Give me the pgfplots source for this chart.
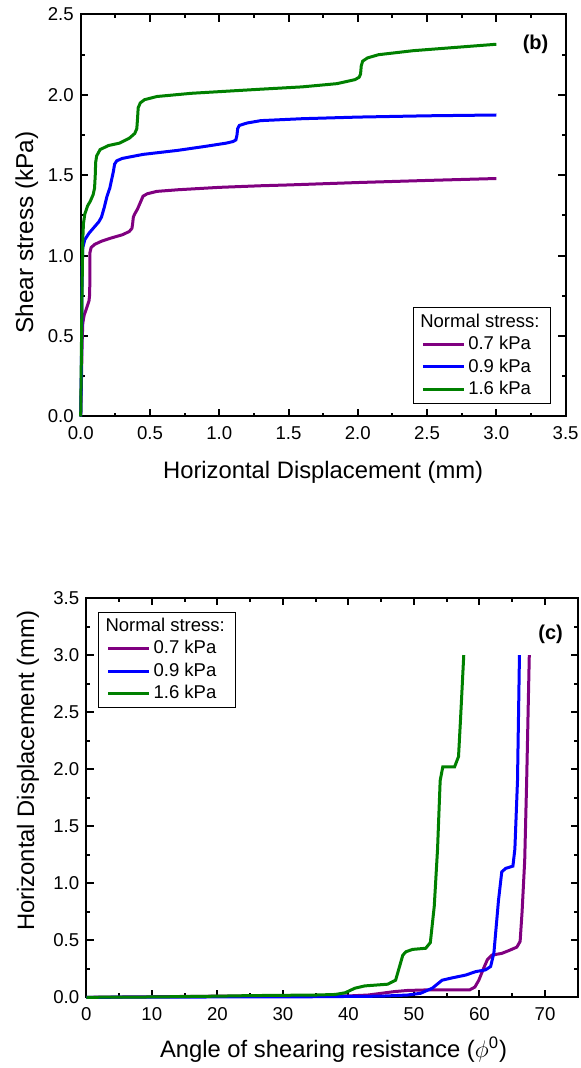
\documentclass[border=0pt]{standalone}
\usepackage{fontspec}
\setmainfont{Liberation Sans}
\usepackage{pgfplots}
\pgfplotsset{compat=1.18}
\definecolor{cpurple}{RGB}{128,0,128}
\definecolor{cblue}{RGB}{0,0,255}
\definecolor{cgreen}{RGB}{0,128,0}

\pgfplotsset{
 myaxis/.style={
  scale only axis,
  axis line style={line width=1pt},
  every tick/.style={black, line width=1pt},
  major tick length=3.6pt,
  minor tick length=2pt,
  tick align=inside,
  minor tick num=1,
  ticklabel style={font=\fontsize{9.3}{10}\selectfont},
  xticklabel style={yshift=-1.5pt},
  /pgf/number format/assume math mode=true,
  label style={font=\fontsize{11.9}{14}\selectfont},
  clip=false,
  legend cell align=left,
  legend image code/.code={\draw[##1] (0pt,0pt) -- (20.5pt,0pt);},
  legend style={draw=black, line width=0.5pt, font=\fontsize{9.25}{11}\selectfont,
    inner xsep=4pt, inner ysep=1.5pt, nodes={inner sep=1.5pt}},
 },
 plotline/.style={line width=1.5pt, no markers},
}

\begin{document}
\begin{tikzpicture}
% ---------------- (b) ----------------
\begin{axis}[myaxis, at={(40.35pt,-208.25pt)}, anchor=south west,
  width=242.45pt, height=201pt,
  xmin=0, xmax=3.5, ymin=0, ymax=2.5,
  xtick={0,0.5,1,1.5,2,2.5,3,3.5}, ytick={0,0.5,1,1.5,2,2.5},
  xticklabel style={/pgf/number format/.cd,fixed,fixed zerofill,precision=1,assume math mode=true},
  yticklabel style={/pgf/number format/.cd,fixed,fixed zerofill,precision=1,assume math mode=true},
  xlabel={Horizontal Displacement (mm)}, ylabel={Shear stress (kPa)},
  xlabel style={at={(axis description cs:0.5,-0.155)}, anchor=base},
  ylabel style={at={(axis description cs:-0.098,0.458)}, anchor=base, font=\fontsize{12.2}{14}\selectfont},
  legend style={at={(rel axis cs:0.97,0.031)}, anchor=south east},
]
\addlegendimage{empty legend}
\addlegendentry{\hspace{-24pt}Normal stress:}
\addplot[plotline, cpurple] coordinates {
(0,0) (0.005,0.2) (0.01,0.45) (0.015,0.58) (0.025,0.63) (0.045,0.68) (0.06,0.72)
(0.065,0.76) (0.066,0.9) (0.067,1.02) (0.075,1.05) (0.1,1.07) (0.15,1.09) (0.22,1.11)
(0.3,1.13) (0.35,1.15) (0.37,1.17) (0.375,1.2) (0.38,1.24) (0.39,1.26) (0.41,1.29)
(0.43,1.33) (0.45,1.37) (0.48,1.385) (0.55,1.40) (0.7,1.41) (1.0,1.425) (1.3,1.435)
(1.5,1.44) (2.0,1.455) (2.5,1.468) (3.0,1.48)};
\addlegendentry{0.7 kPa}
\addplot[plotline, cblue] coordinates {
(0,0) (0.005,0.3) (0.008,0.6) (0.01,0.9) (0.015,1.05) (0.03,1.1) (0.06,1.14) (0.1,1.18)
(0.13,1.21) (0.15,1.24) (0.17,1.3) (0.19,1.37) (0.21,1.42) (0.22,1.46) (0.235,1.52)
(0.245,1.57) (0.26,1.59) (0.3,1.605) (0.45,1.63) (0.7,1.655) (0.9,1.68) (1.05,1.70)
(1.1,1.71) (1.12,1.72) (1.128,1.75) (1.133,1.79) (1.145,1.81) (1.2,1.825) (1.3,1.84)
(1.6,1.852) (2.0,1.862) (2.5,1.87) (3.0,1.875)};
\addlegendentry{0.9 kPa}
\addplot[plotline, cgreen] coordinates {
(0,0) (0.005,0.4) (0.01,0.8) (0.015,1.1) (0.02,1.2) (0.03,1.26) (0.05,1.31) (0.07,1.34)
(0.09,1.38) (0.1,1.42) (0.105,1.5) (0.108,1.58) (0.115,1.62) (0.14,1.66) (0.2,1.685)
(0.28,1.70) (0.35,1.73) (0.39,1.76) (0.405,1.79) (0.41,1.85) (0.415,1.92) (0.43,1.95)
(0.46,1.97) (0.55,1.99) (0.8,2.01) (1.29,2.035) (1.6,2.05) (1.85,2.07) (1.98,2.095)
(2.01,2.11) (2.02,2.13) (2.025,2.18) (2.035,2.21) (2.07,2.23) (2.15,2.25) (2.4,2.275)
(2.7,2.295) (3.0,2.315)};
\addlegendentry{1.6 kPa}
\node[font=\bfseries\fontsize{10}{12}\selectfont, anchor=east] at (rel axis cs:0.979,0.926) {(b)};
\end{axis}
% ---------------- (c) ----------------
\begin{axis}[myaxis, at={(43.15pt,-498.65pt)}, anchor=south west,
  width=245.75pt, height=199.65pt,
  xmin=0, xmax=75, ymin=0, ymax=3.5,
  xtick={0,10,20,30,40,50,60,70}, ytick={0,0.5,1,1.5,2,2.5,3,3.5},
  yticklabel style={/pgf/number format/.cd,fixed,fixed zerofill,precision=1,assume math mode=true},
  xlabel={Angle of shearing resistance (\(\phi\)\textsuperscript{0})},
  ylabel={Horizontal Displacement (mm)},
  xlabel style={at={(axis description cs:0.503,-0.151)}, anchor=base},
  ylabel style={at={(axis description cs:-0.106,0.567)}, anchor=base},
  legend style={at={(rel axis cs:0.024,0.966)}, anchor=north west},
]
\addlegendimage{empty legend}
\addlegendentry{\hspace{-24pt}Normal stress:}
\addplot[plotline, cpurple] coordinates {
(0,0) (10,0.005) (20,0.01) (30,0.01) (40,0.012) (43,0.02) (45,0.035) (47,0.05) (49,0.06)
(52,0.065) (58.5,0.065) (59.3,0.09) (59.9,0.15) (60.6,0.25) (61.2,0.33) (61.9,0.37)
(63.4,0.385) (64.5,0.41) (65.7,0.44) (66.2,0.49) (66.5,0.75) (66.9,1.2) (67.2,1.9) (67.6,3.0)};
\addlegendentry{0.7 kPa}
\addplot[plotline, cblue] coordinates {
(0,0) (20,0.003) (35,0.005) (45,0.01) (49,0.02) (51,0.035) (52.8,0.08) (54.3,0.15)
(55.8,0.17) (57.9,0.195) (59.4,0.225) (60.9,0.24) (61.7,0.27) (62.2,0.39) (62.9,0.85)
(63.4,1.1) (64,1.13) (65.1,1.15) (65.4,1.3) (65.6,1.6) (65.8,1.9) (66.1,3.0)};
\addlegendentry{0.9 kPa}
\addplot[plotline, cgreen] coordinates {
(0,0) (10,0.003) (20,0.01) (25,0.015) (35,0.02) (38,0.025) (39.5,0.04) (41,0.08)
(42.5,0.1) (46,0.115) (47.2,0.15) (48.3,0.37) (48.8,0.4) (49.8,0.42) (51.8,0.43)
(52.5,0.48) (53.1,0.8) (53.6,1.3) (54.0,1.9) (54.4,2.02) (56.2,2.02) (56.8,2.11)
(57.1,2.43) (57.6,3.0)};
\addlegendentry{1.6 kPa}
\node[font=\bfseries\fontsize{10}{12}\selectfont, anchor=east] at (rel axis cs:0.984,0.909) {(c)};
\end{axis}
\pgfresetboundingbox
\path[use as bounding box] (0,0) rectangle (290.5pt,-534pt);
\end{tikzpicture}
\end{document}
